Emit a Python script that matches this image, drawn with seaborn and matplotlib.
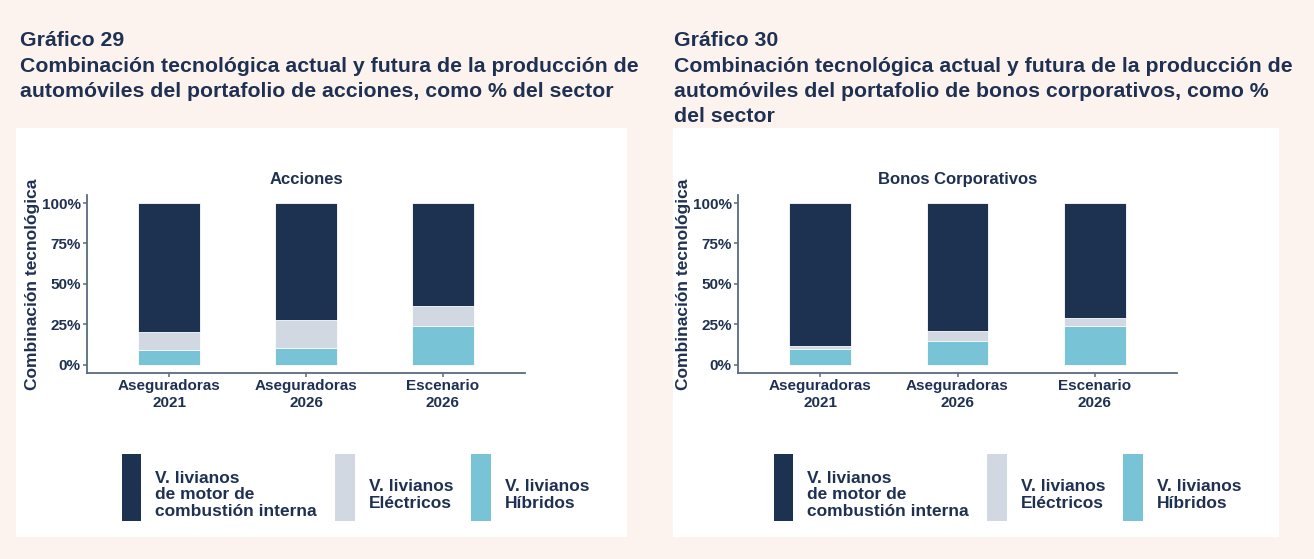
import matplotlib
matplotlib.use("Agg")
import matplotlib.pyplot as plt
from matplotlib.patches import Patch, Rectangle
from matplotlib.legend_handler import HandlerPatch
from matplotlib.ticker import PercentFormatter
import pandas as pd
import seaborn as sns

# ---- datos (% del sector) ----
categorias = ["Aseguradoras\n2021", "Aseguradoras\n2026", "Escenario\n2026"]
tecnologias = ["V. livianos\nde motor de\ncombustión interna",
               "V. livianos\nEléctricos",
               "V. livianos\nHíbridos"]

acc_hibridos = [9.0, 10.5, 24.0]
acc_electricos = [11.4, 17.3, 12.4]
acc_combustion = [79.6, 72.2, 63.6]

bon_hibridos = [9.7, 14.6, 23.9]
bon_electricos = [2.1, 6.0, 4.8]
bon_combustion = [88.2, 79.4, 71.3]

NAVY = "#1d3150"
GRIS = "#d1d8e1"
CELESTE = "#78c3d6"
TEXTO = "#1f3152"
EJE = "#5b6a80"
FONDO = "#fdf3ee"

sns.set_style("ticks")
plt.rcParams["font.family"] = ["Liberation Sans", "DejaVu Sans"]
plt.rcParams["font.weight"] = "bold"
plt.rcParams["text.color"] = TEXTO

LEG_SHIFT = 7  # px: sube la caja de color respecto al texto


def key_patch(legend, orig_handle, xdescent, ydescent, width, height, fontsize):
    # rectangulo alto tipo ggplot, desplazado para centrar el texto
    return Rectangle((-xdescent, -ydescent + LEG_SHIFT), width, height)


def stacked_panel(ax, hib, ele, com, title):
    df = pd.DataFrame({"cat": categorias, "hib": hib, "ele": ele, "com": com})
    df["h1"] = df["hib"] / 100
    df["h2"] = (df["hib"] + df["ele"]) / 100
    df["h3"] = (df["hib"] + df["ele"] + df["com"]) / 100
    for col, color in [("h3", NAVY), ("h2", GRIS), ("h1", CELESTE)]:
        sns.barplot(data=df, x="cat", y=col, color=color, width=0.45,
                    saturation=1, edgecolor="white", linewidth=0.6,
                    errorbar=None, ax=ax)
    ax.set_xlim(-0.6, 2.6)
    ax.set_ylim(-0.05, 1.05)
    ax.set_yticks([0, 0.25, 0.5, 0.75, 1.0])
    ax.yaxis.set_major_formatter(PercentFormatter(1, decimals=0))
    ax.set_xlabel("")
    ax.set_ylabel("Combinación tecnológica", fontsize=12.5, fontweight="bold",
                  color=TEXTO, labelpad=1.5)
    ax.set_title(title, fontsize=12, fontweight="bold", color=TEXTO, pad=8)
    ax.set_facecolor("white")
    sns.despine(ax=ax)
    for s in ["left", "bottom"]:
        ax.spines[s].set_color(EJE)
        ax.spines[s].set_linewidth(1.3)
    ax.tick_params(colors=EJE, length=3, width=1.1, labelcolor=TEXTO,
                   labelsize=11, pad=1.5)
    for lab in ax.get_xticklabels() + ax.get_yticklabels():
        lab.set_fontweight("bold")
        lab.set_linespacing(1.25)


fig = plt.figure(figsize=(13.14, 5.59), dpi=100)
fig.patch.set_facecolor(FONDO)
W, H = 1314, 559

# paneles blancos
for x0, x1 in [(16, 627), (673, 1279)]:
    fig.patches.append(Rectangle((x0 / W, 1 - 537 / H), (x1 - x0) / W, (537 - 128) / H,
                                 transform=fig.transFigure, facecolor="white",
                                 edgecolor="none", zorder=-10))

ax1 = fig.add_axes([87 / W, 1 - 372.7 / H, 438 / W, 177.7 / H])
ax2 = fig.add_axes([738 / W, 1 - 372.7 / H, 439 / W, 177.7 / H])

stacked_panel(ax1, acc_hibridos, acc_electricos, acc_combustion, "Acciones")
stacked_panel(ax2, bon_hibridos, bon_electricos, bon_combustion, "Bonos Corporativos")

# encabezados
fig.text(20 / W, 1 - 31.5 / H, "Gráfico 29\nCombinación tecnológica actual y futura de la producción de\n"
         "automóviles del portafolio de acciones, como % del sector",
         fontsize=15.3, fontweight="bold", color=TEXTO, va="top", linespacing=1.42,
         transform=fig.transFigure)
fig.text(674 / W, 1 - 31.5 / H, "Gráfico 30\nCombinación tecnológica actual y futura de la producción de\n"
         "automóviles del portafolio de bonos corporativos, como %\ndel sector",
         fontsize=15.3, fontweight="bold", color=TEXTO, va="top", linespacing=1.42,
         transform=fig.transFigure)

# leyendas
handles = [Patch(facecolor=c, edgecolor="none") for c in [NAVY, GRIS, CELESTE]]
for xl in [122, 774]:
    leg = fig.legend(handles, tecnologias, loc="center left",
                     bbox_to_anchor=(xl / W, 1 - (490 + LEG_SHIFT) / H), ncol=3,
                     frameon=False, borderpad=0, borderaxespad=0,
                     handlelength=1.12, handleheight=5.55,
                     handletextpad=0.8, columnspacing=1.05,
                     handler_map={Patch: HandlerPatch(patch_func=key_patch)},
                     prop={"weight": "bold", "size": 12.5})
    for t in leg.get_texts():
        t.set_linespacing(1.12)
        t.set_color(TEXTO)

fig.savefig("out.png", dpi=100, facecolor=FONDO)
